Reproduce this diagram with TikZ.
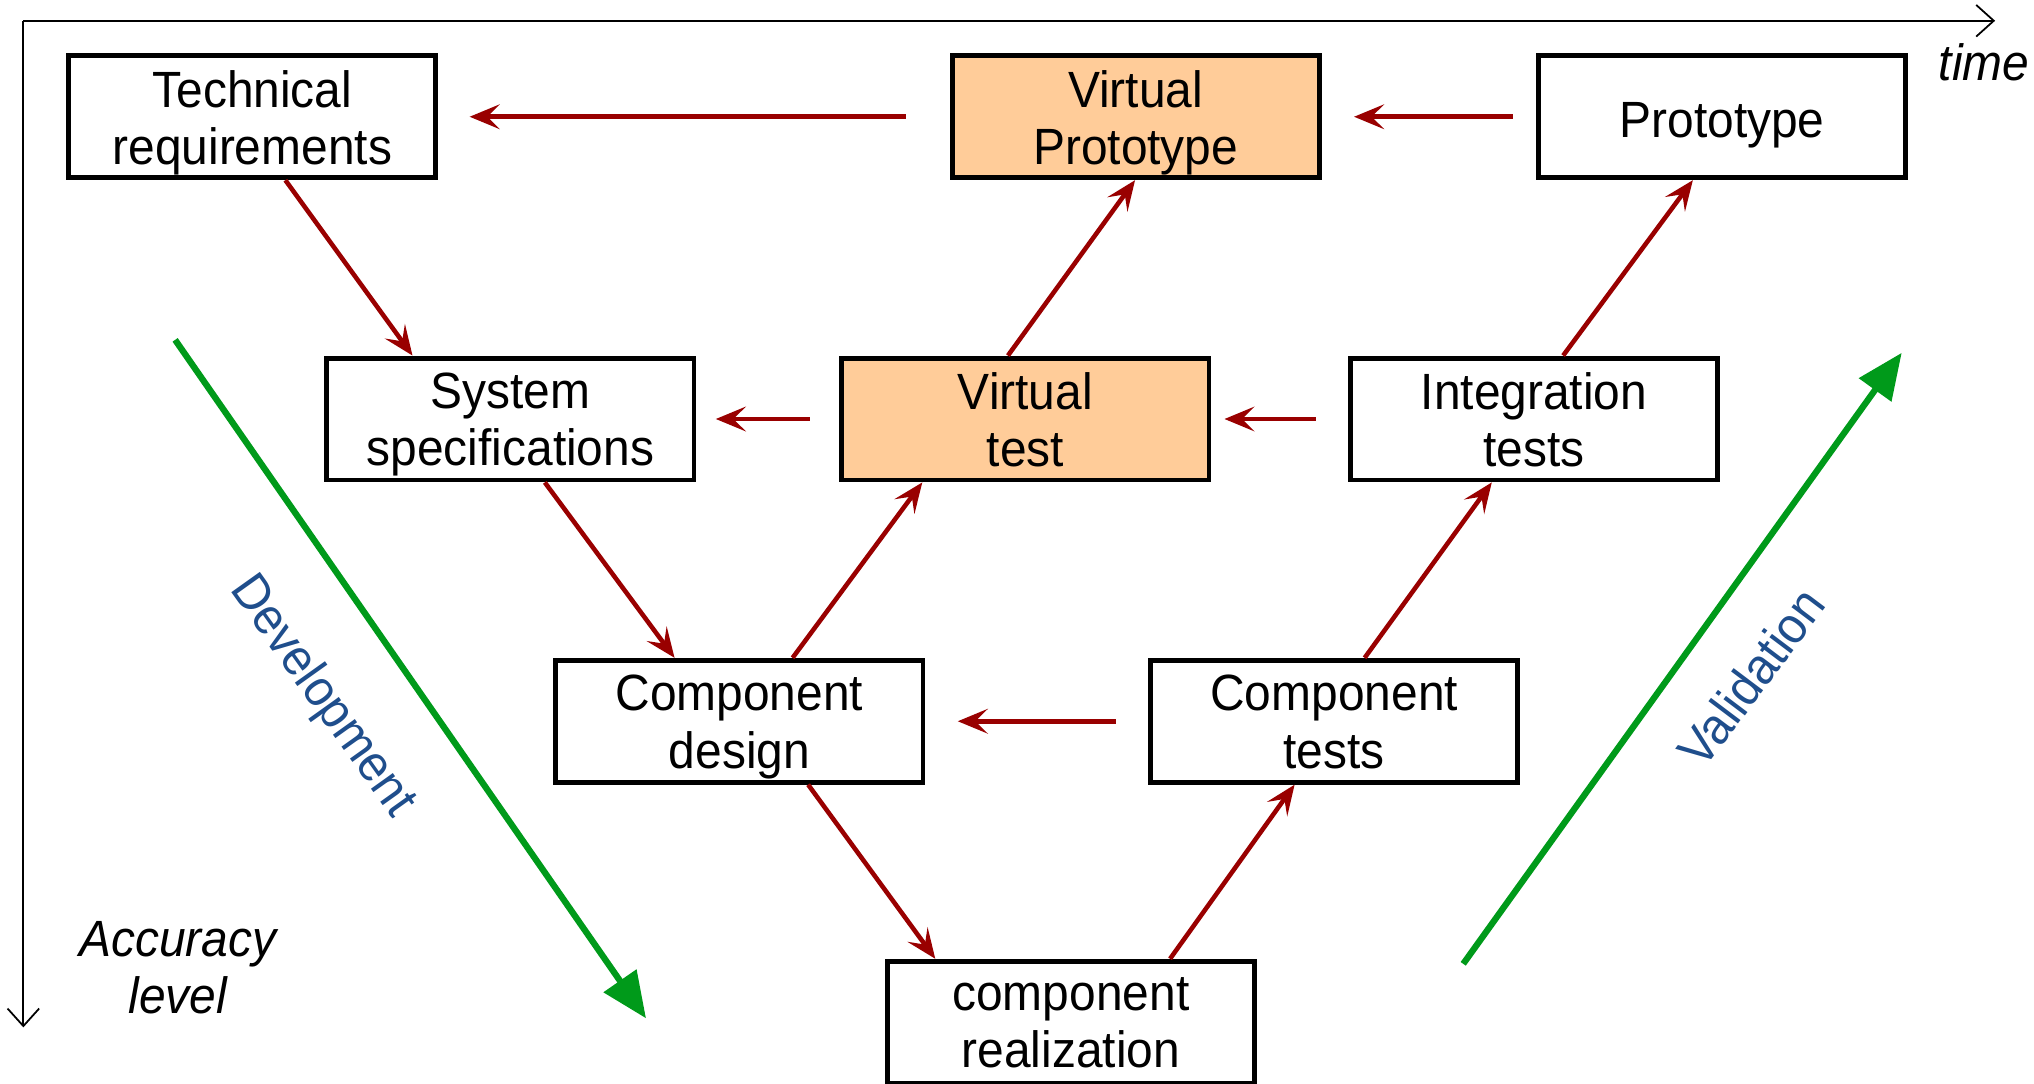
\documentclass[tikz,border=0pt]{standalone}
\usepackage{fontspec}
\setmainfont[FakeStretch=0.94]{Liberation Sans}
\usetikzlibrary{arrows.meta,calc}
\definecolor{arrowred}{HTML}{990000}
\definecolor{vgreen}{HTML}{009A1A}
\definecolor{labelblue}{HTML}{1F4E8C}
\definecolor{peach}{HTML}{FFCC99}

% a stage: an outlined box and its caption, set slightly below the box centre
\newcommand{\stagenode}[4][stagebox]{%
  \node[#1] (#2) at (#3) {};
  \node[stagetext] (#2-text) at ($(#2.center)+(0,7)$) {#4};}

\begin{document}
\begin{tikzpicture}[x=0.012972cm, y=-0.012972cm,
  stagebox/.style={draw=black, fill=white, line width=1.4pt, minimum width=3.671cm,
    minimum height=1.219cm, inner sep=0pt},
  virtual/.style={stagebox, fill=peach},
  stagetext/.style={align=center, inner sep=0pt,
    font=\fontsize{14.5}{16.3}\selectfont,
    execute at begin node=\strut, execute at end node=\strut},
  flow/.style={draw=arrowred, line width=1.3pt,
    -{Stealth[length=8.5pt,width=7pt,inset=3.5pt]}},
  phase/.style={draw=vgreen, line width=1.8pt, -{Triangle[length=13pt,width=11pt]}},
  axisline/.style={line width=0.5pt, -{Straight Barb[length=5pt,width=9pt]}},
  axislabel/.style={font=\fontsize{14.5}{16.3}\selectfont\itshape, align=center},
  phaselabel/.style={font=\fontsize{14.5}{16.3}\selectfont, text=labelblue}
]
\useasboundingbox (0,0) rectangle (1568,835);

% axes
\coordinate (origin) at (18,16);
\coordinate (timeend) at (1538,16);
\coordinate (accend) at (18,792);
\draw[axisline] (origin) -- (timeend);
\draw[axisline] (origin) -- (accend);
\node[axislabel, anchor=east, inner sep=0pt] (timelbl) at (1565,48) {time};
\node[axislabel] (acclbl) at (137,746) {Accuracy\\level};

% stages
\stagenode{TR}{194.5,90}{Technical\\requirements}
\stagenode[virtual]{VP}{875.5,90}{Virtual\\Prototype}
\stagenode{PR}{1327.5,90}{Prototype}
\stagenode{SS}{393.5,323}{System\\specifications}
\stagenode[virtual]{VT}{790.5,323}{Virtual\\test}
\stagenode{IT}{1182.5,323}{Integration\\tests}
\stagenode{CD}{570,556}{Component\\design}
\stagenode{CT}{1028.5,556}{Component\\tests}
\stagenode{CR}{825.5,788}{component\\realization}

% feedback arrows (right to left)
\draw[flow, shorten <=12.5pt, shorten >=8.9pt] (VP.west) -- (TR.east);
\draw[flow, shorten <=6.6pt, shorten >=9.2pt] (PR.west) -- (VP.east);
\draw[flow, shorten <=8.5pt, shorten >=5.5pt] (VT.west) -- (SS.east);
\draw[flow, shorten <=9.2pt, shorten >=3.7pt] (IT.west) -- (VT.east);
\draw[flow, shorten <=9.2pt, shorten >=9.2pt] (CT.west) -- (CD.east);

% development branch
\draw[flow] ($(TR.south)+(25.5,0)$) -- ($(SS.north)+(-75.5,0)$);
\draw[flow] ($(SS.south)+(26.5,0)$) -- ($(CD.north)+(-50,0)$);
\draw[flow] ($(CD.south)+(53,0)$) -- ($(CR.north)+(-104.5,0)$);

% validation branches
\draw[flow] ($(CR.north)+(76.5,0)$) -- ($(CT.south)+(-30.5,0)$);
\draw[flow] ($(CT.north)+(23.5,0)$) -- ($(IT.south)+(-32.5,0)$);
\draw[flow] ($(IT.north)+(22.5,0)$) -- ($(PR.south)+(-22.5,0)$);
\draw[flow] ($(CD.north)+(41,0)$) -- ($(VT.south)+(-79.5,0)$);
\draw[flow] ($(VT.north)+(-13.5,0)$) -- ($(VP.south)+(-0.5,0)$);

% phase arrows
\coordinate (devstart) at (135,262);
\coordinate (devend) at (498,785);
\coordinate (valstart) at (1128,743);
\coordinate (valend) at (1466,272);
\draw[phase] (devstart) -- (devend);
\draw[phase] (valstart) -- (valend);
\node[phaselabel, rotate=-54.5] (devlbl) at (248,537) {Development};
\node[phaselabel, rotate=53] (vallbl) at (1350,522) {Validation};
\end{tikzpicture}
\end{document}
